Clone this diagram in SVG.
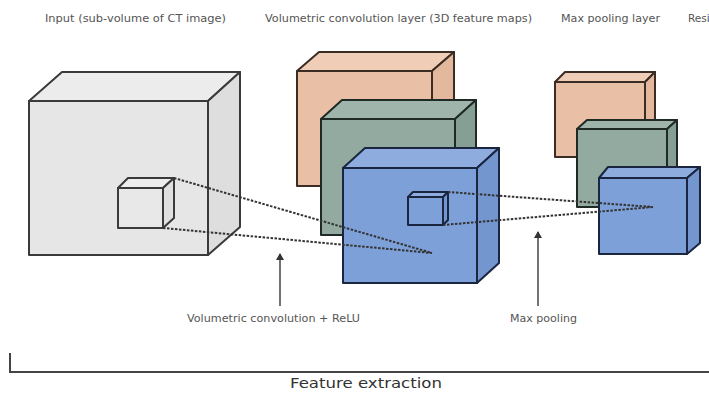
<svg xmlns="http://www.w3.org/2000/svg" width="709" height="394" viewBox="0 0 709 394">
<defs>
<style>
.lbl{font-family:"DejaVu Sans",Verdana,sans-serif;font-size:10.5px;fill:#555}
.big{font-family:"DejaVu Sans",Verdana,sans-serif;font-size:14.5px;fill:#333}
.gray rect,.gray polygon{stroke:#3a3a3a;stroke-width:2;stroke-linejoin:round}
.edge{stroke-width:2;stroke-linejoin:round}
.or{stroke:#3b2c24}
.gr{stroke:#1f2a26}
.bl{stroke:#1a2540}
.dot{fill:none;stroke:#333;stroke-width:2;stroke-dasharray:2.5 1.5}
.arr{stroke:#444;stroke-width:1.5;fill:none}
</style>
<marker id="ah" markerWidth="8" markerHeight="8" refX="6" refY="4" orient="auto" markerUnits="userSpaceOnUse">
<path d="M0,0 L7,4 L0,8 Z" fill="#333"/>
</marker>
</defs>
<rect width="709" height="394" fill="#fff"/>

<g id="titles">
<text class="lbl" x="45" y="22" textLength="181" lengthAdjust="spacingAndGlyphs">Input (sub-volume of CT image)</text>
<text class="lbl" x="265" y="22" textLength="267" lengthAdjust="spacingAndGlyphs">Volumetric convolution layer (3D feature maps)</text>
<text class="lbl" x="561" y="22" textLength="99" lengthAdjust="spacingAndGlyphs">Max pooling layer</text>
<text class="lbl" x="688" y="22">Resi</text>
</g>

<g id="input" class="gray">
<polygon points="29,101 62,72 240,72 208,101" fill="#ececec"/>
<polygon points="208,101 240,72 240,227 208,255" fill="#dedede"/>
<rect x="29" y="101" width="179" height="154" fill="#e6e6e6"/>
<polygon points="118,188 128,178 174,178 163,188" fill="#ededed"/>
<polygon points="163,188 174,178 174,218 163,228" fill="#e0e0e0"/>
<rect x="118" y="188" width="45" height="40" fill="#e8e8e8"/>
</g>

<g id="conv-orange" class="edge or">
<polygon points="297,71 319,52 454,52 432,71" fill="#efcdb6"/>
<polygon points="432,71 454,52 454,167 432,186" fill="#e3b89c"/>
<rect x="297" y="71" width="135" height="115" fill="#e9c0a5"/>
</g>
<g id="conv-green" class="edge gr">
<polygon points="321,119 342,100 476,100 455,119" fill="#9fb5ab"/>
<polygon points="455,119 476,100 476,216 455,235" fill="#869f94"/>
<rect x="321" y="119" width="134" height="116" fill="#92aa9f"/>
</g>
<g id="conv-blue" class="edge bl">
<polygon points="343,168 365,148 499,148 477,168" fill="#8eadde"/>
<polygon points="477,168 499,148 499,263 477,283" fill="#7396cf"/>
<rect x="343" y="168" width="134" height="115" fill="#7ea0d9"/>
<polygon points="408,197 413,192 448,192 443,197" fill="#8eadde"/>
<polygon points="443,197 448,192 448,220 443,225" fill="#7396cf"/>
<rect x="408" y="197" width="35" height="28" fill="#7ea0d9"/>
</g>

<g id="pool-orange" class="edge or">
<polygon points="555,82 565,72 655,72 645,82" fill="#efcdb6"/>
<polygon points="645,82 655,72 655,147 645,157" fill="#e3b89c"/>
<rect x="555" y="82" width="90" height="75" fill="#e9c0a5"/>
</g>
<g id="pool-green" class="edge gr">
<polygon points="577,129 587,120 677,120 667,129" fill="#9fb5ab"/>
<polygon points="667,129 677,120 677,198 667,207" fill="#869f94"/>
<rect x="577" y="129" width="90" height="78" fill="#92aa9f"/>
</g>
<g id="pool-blue" class="edge bl">
<polygon points="599,178 608,167 700,167 687,178" fill="#8eadde"/>
<polygon points="687,178 700,167 700,243 687,254" fill="#7396cf"/>
<rect x="599" y="178" width="88" height="76" fill="#7ea0d9"/>
</g>

<g id="connectors">
<path class="dot" d="M174,178 L432,253 M163,228 L432,253"/>
<path class="dot" d="M448,192 L653,207 M443,225 L653,207"/>
<line class="arr" x1="280" y1="306" x2="280" y2="254" marker-end="url(#ah)"/>
<line class="arr" x1="538" y1="306" x2="538" y2="232" marker-end="url(#ah)"/>
<path d="M10,353 L10,372 L709,372" fill="none" stroke="#444" stroke-width="2"/>
</g>

<g id="labels">
<text class="lbl" x="187" y="322" textLength="173" lengthAdjust="spacingAndGlyphs">Volumetric convolution + ReLU</text>
<text class="lbl" x="510" y="322" textLength="67" lengthAdjust="spacingAndGlyphs">Max pooling</text>
<text class="big" x="290" y="388" textLength="152" lengthAdjust="spacingAndGlyphs">Feature extraction</text>
</g>
</svg>
